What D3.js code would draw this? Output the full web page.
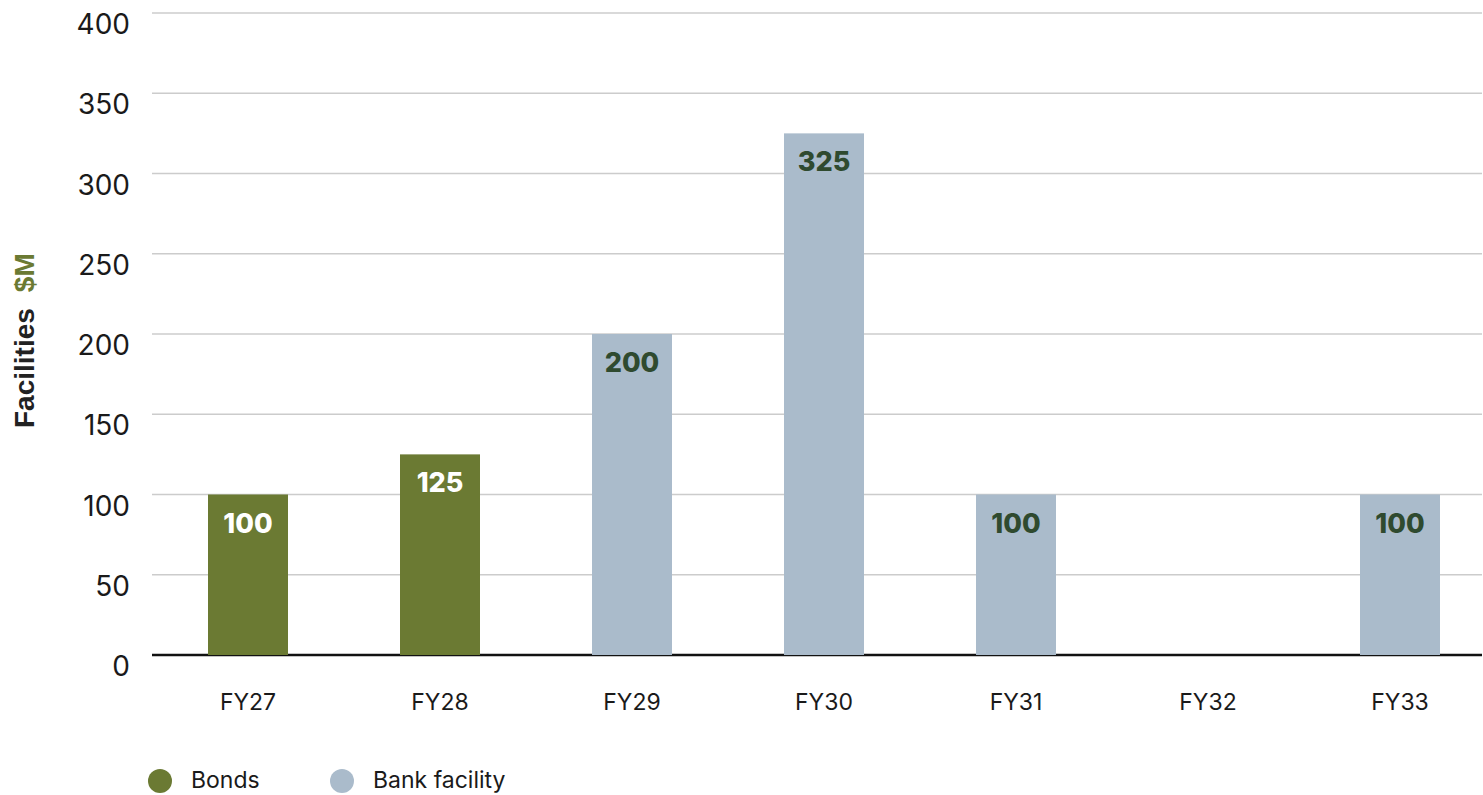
<!DOCTYPE html>
<html>
<head>
<meta charset="utf-8">
<script src="https://cdn.jsdelivr.net/npm/d3@7"></script>
<style>
  html, body { margin: 0; padding: 0; background: #fff; }
  svg { display: block; }
</style>
</head>
<body>
<svg id="chart" width="1483" height="795"></svg>
<script>
// Facility maturity profile ($M)
const categories = ["FY27", "FY28", "FY29", "FY30", "FY31", "FY32", "FY33"];
const facilityType = ["Bonds", "Bonds", "Bank facility", "Bank facility", "Bank facility", "Bank facility", "Bank facility"];
const values = [100, 125, 200, 325, 100, 0, 100];
const yTicks = [0, 50, 100, 150, 200, 250, 300, 350, 400];
const seriesNames = ["Bonds", "Bank facility"];

const colors = { "Bonds": "#6b7a33", "Bank facility": "#aabbcb" };
const labelColors = { "Bonds": "#ffffff", "Bank facility": "#2f4a2f" };

(function draw() {
  const svg = d3.select("#chart");
  const plotLeft = 152, plotRight = 1482, plotTop = 13, plotBottom = 655;

  const x = d3.scaleBand()
    .domain(categories)
    .range([plotLeft, plotLeft + 1344])
    .paddingInner(112 / 192)
    .paddingOuter(56 / 192);

  const y = d3.scaleLinear().domain([0, 400]).range([plotBottom, plotTop]);

  // gridlines
  svg.append("g").selectAll("line")
    .data(yTicks.filter(d => d > 0))
    .join("line")
    .attr("x1", plotLeft).attr("x2", plotRight)
    .attr("y1", d => y(d)).attr("y2", d => y(d))
    .attr("stroke", "#cccccc").attr("stroke-width", 1.5);

  // y tick labels
  svg.append("g").selectAll("text")
    .data(yTicks)
    .join("text")
    .attr("x", 130)
    .attr("y", d => y(d) + 21)
    .attr("text-anchor", "end")
    .attr("font-family", "Inter, 'Liberation Sans', sans-serif")
    .attr("font-size", 28)
    .attr("fill", "#1a1a1a")
    .text(d => d);

  // baseline
  svg.append("line")
    .attr("x1", plotLeft).attr("x2", plotRight)
    .attr("y1", y(0)).attr("y2", y(0))
    .attr("stroke", "#111").attr("stroke-width", 2.5);

  const rows = categories.map((c, i) => ({ c, v: values[i], t: facilityType[i] }));

  // bars
  svg.append("g").selectAll("rect")
    .data(rows)
    .join("rect")
    .attr("x", d => x(d.c))
    .attr("width", x.bandwidth())
    .attr("y", d => y(d.v))
    .attr("height", d => y(0) - y(d.v))
    .attr("fill", d => colors[d.t])
    .attr("stroke", d => d.v === 0 ? "#555" : "none")
    .attr("stroke-width", d => d.v === 0 ? 1.5 : 0);

  // value labels inside bars
  svg.append("g").selectAll("text")
    .data(rows.filter(d => d.v > 0))
    .join("text")
    .attr("x", d => x(d.c) + x.bandwidth() / 2)
    .attr("y", d => y(d.v) + 38)
    .attr("text-anchor", "middle")
    .attr("font-family", "Inter, 'Liberation Sans', sans-serif")
    .attr("font-weight", 800)
    .attr("font-size", 27)
    .attr("fill", d => labelColors[d.t])
    .text(d => d.v);

  // x labels
  svg.append("g").selectAll("text")
    .data(categories)
    .join("text")
    .attr("x", d => x(d) + x.bandwidth() / 2)
    .attr("y", 710)
    .attr("text-anchor", "middle")
    .attr("font-family", "Inter, 'Liberation Sans', sans-serif")
    .attr("font-size", 23)
    .attr("fill", "#1a1a1a")
    .text(d => d);

  // y axis title
  const yTitle = svg.append("text")
    .attr("transform", "translate(34,428) rotate(-90)")
    .attr("font-family", "'Liberation Sans', Arial, sans-serif")
    .attr("font-weight", 700)
    .attr("font-size", 28);
  yTitle.append("tspan").attr("fill", "#222").text("Facilities");
  yTitle.append("tspan").attr("fill", "#6b7a33").attr("dx", 16).text("$M");

  // legend
  const legendX = [160, 342];
  const legend = svg.append("g").selectAll("g")
    .data(seriesNames)
    .join("g")
    .attr("transform", (d, i) => `translate(${legendX[i]},781)`);
  legend.append("circle").attr("r", 12).attr("fill", d => colors[d]);
  legend.append("text")
    .attr("x", 31)
    .attr("y", 7)
    .attr("font-family", "Inter, 'Liberation Sans', sans-serif")
    .attr("font-size", 23)
    .attr("fill", "#1a1a1a")
    .text(d => d);
})();
</script>
</body>
</html>
